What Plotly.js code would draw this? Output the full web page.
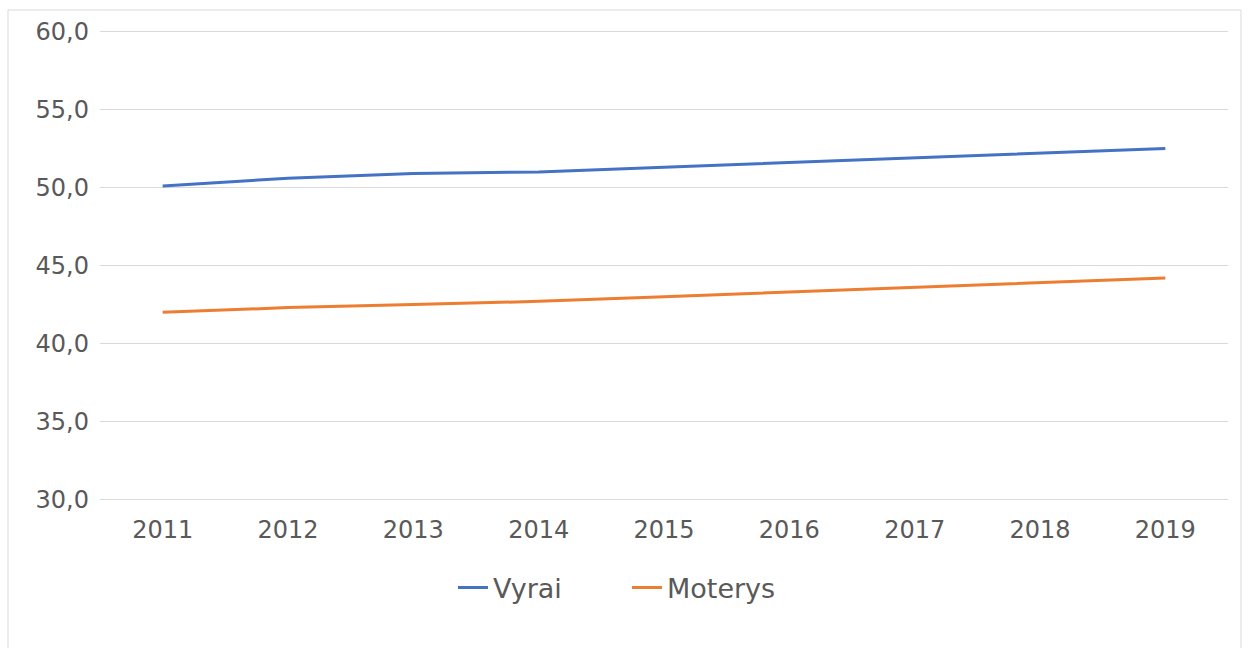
<!DOCTYPE html>
<html>
<head>
<meta charset="utf-8">
<script src="https://cdn.plot.ly/plotly-3.0.1.min.js"></script>
<style>
html,body{margin:0;padding:0;background:#fff;}
#chart{width:1249px;height:648px;}
</style>
</head>
<body>
<div id="chart"></div>
<script>
const years = ["2011","2012","2013","2014","2015","2016","2017","2018","2019"];
const vyrai = [50.1, 50.6, 50.9, 51.0, 51.3, 51.6, 51.9, 52.2, 52.5];
const moterys = [42.0, 42.3, 42.5, 42.7, 43.0, 43.3, 43.6, 43.9, 44.2];
const seriesNames = ["Vyrai", "Moterys"];
const yTicks = [30, 35, 40, 45, 50, 55, 60];
const yTickText = ["30,0", "35,0", "40,0", "45,0", "50,0", "55,0", "60,0"];

const font = {family: "DejaVu Sans, Verdana, sans-serif", size: 24, color: "#595959"};
const legendFont = {family: "DejaVu Sans, Verdana, sans-serif", size: 27, color: "#595959"};

const traces = [
  {x: years, y: vyrai, name: seriesNames[0], type: "scatter", mode: "lines",
   line: {color: "#4472C4", width: 3}},
  {x: years, y: moterys, name: seriesNames[1], type: "scatter", mode: "lines",
   line: {color: "#ED7D31", width: 3}}
];

const L = 100, R = 1228, T = 30, B = 501, W = 1249, H = 648;
const pw = R - L, ph = B - T;
function px(x){ return (x - L) / pw; }
function py(y){ return (B - y) / ph; }

const layout = {
  width: W, height: H,
  margin: {l: L, r: W - R, t: T, b: H - B, pad: 0},
  paper_bgcolor: "#fff", plot_bgcolor: "#fff",
  font: font,
  showlegend: true,
  legend: {orientation: "h", x: px(627), xanchor: "center", y: py(588), yanchor: "middle",
           font: legendFont, entrywidth: 129, entrywidthmode: "pixels", traceorder: "normal"},
  xaxis: {type: "category", range: [-0.5, 8.5], showgrid: false, zeroline: false,
          showline: false, ticks: "", tickfont: font, ticklabelstandoff: 12, fixedrange: true},
  yaxis: {range: [29.9, 60.1], tickvals: yTicks, ticktext: yTickText, showgrid: true,
          gridcolor: "#d9d9d9", gridwidth: 1, zeroline: false, showline: false, ticks: "",
          tickfont: font, ticklabelstandoff: 10, fixedrange: true},
  shapes: [
    {type: "rect", xref: "paper", yref: "paper", x0: px(8), x1: px(1241), y0: py(700), y1: py(10),
     line: {color: "#d9d9d9", width: 1}, fillcolor: "rgba(0,0,0,0)", layer: "below"}
  ]
};

Plotly.newPlot("chart", traces, layout, {displayModeBar: false, staticPlot: true});
</script>
</body>
</html>
